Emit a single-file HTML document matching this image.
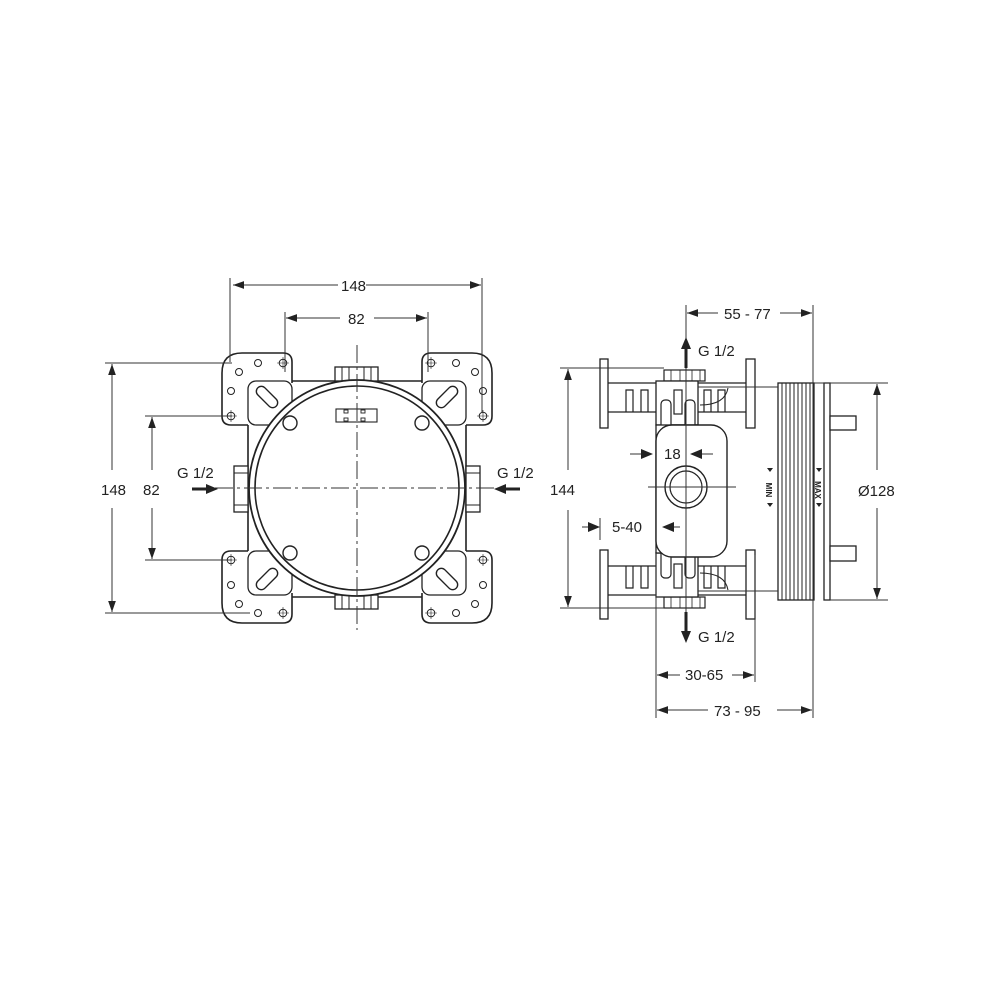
<!DOCTYPE html>
<html><head><meta charset="utf-8"><style>
html,body{margin:0;padding:0;background:#fff}
svg{display:block}
text{font-family:"Liberation Sans",sans-serif;font-size:15px;fill:#222}
</style></head><body>
<svg width="1000" height="1000" viewBox="0 0 1000 1000" xmlns="http://www.w3.org/2000/svg">
<defs>
<marker id="a" viewBox="0 0 10 10" refX="10" refY="5" markerWidth="11" markerHeight="11" markerUnits="userSpaceOnUse" orient="auto-start-reverse"><path d="M0,1.5 L10,5 L0,8.5z" fill="#222"/></marker>
<g id="tlb">
<path d="M292,383 V362 Q292,353 283,353 H242 Q222,353 222,373 V416 Q222,425 231,425 H248" fill="#fff" stroke="#222" stroke-width="1.6"/>
<rect x="248" y="381" width="44" height="44" rx="8" fill="#fff" stroke="#222" stroke-width="1.3"/>
<rect x="254" y="392" width="26" height="10" rx="5" transform="rotate(45 267 397)" fill="#fff" stroke="#222" stroke-width="1.4"/>
<circle cx="258" cy="363" r="3.5" fill="none" stroke="#222"/>
<circle cx="283" cy="363" r="3.8" fill="none" stroke="#222"/><path d="M283,357v12M277,363h12" stroke="#222" stroke-width=".6"/>
<circle cx="239" cy="372" r="3.5" fill="none" stroke="#222"/>
<circle cx="231" cy="391" r="3.5" fill="none" stroke="#222"/>
<circle cx="231" cy="416" r="3.8" fill="none" stroke="#222"/><path d="M231,410v12M225,416h12" stroke="#222" stroke-width=".6"/>
<circle cx="290" cy="423" r="7" fill="#fff" stroke="#222" stroke-width="1.4"/>
</g>
<g id="pipe">
<rect x="600" y="359" width="8" height="69" fill="#fff" stroke="#222" stroke-width="1.3"/>
<rect x="746" y="359" width="9" height="69" fill="#fff" stroke="#222" stroke-width="1.3"/>
<path d="M608,383 H656 M608,412 H656 M698,383 H746 M698,412 H746" stroke="#222" stroke-width="1.2"/>
<path d="M626,412 V390 H633 V412 M641,412 V390 H648 V412 M704,412 V390 H711 V412 M718,412 V390 H725 V412" fill="none" stroke="#222" stroke-width="1.2"/>
<path d="M700,405 Q725,405 728,388" fill="none" stroke="#222" stroke-width="1"/>
<rect x="664" y="370" width="41" height="11" fill="#fff" stroke="#222" stroke-width="1.2"/>
<path d="M671,370v11M680,370v11M692,370v11M700,370v11" stroke="#222" stroke-width=".8"/>
<rect x="656" y="381" width="42" height="44" fill="#fff" stroke="#222" stroke-width="1.3"/>
<rect x="661" y="400" width="10" height="30" rx="4" fill="#fff" stroke="#222" stroke-width="1.2"/>
<rect x="674" y="390" width="8" height="24" fill="#fff" stroke="#222" stroke-width="1.2"/>
<rect x="685" y="400" width="10" height="30" rx="4" fill="#fff" stroke="#222" stroke-width="1.2"/>
</g>
</defs>

<!-- LEFT VIEW -->
<use href="#tlb"/>
<use href="#tlb" transform="translate(714,0) scale(-1,1)"/>
<use href="#tlb" transform="translate(0,976) scale(1,-1)"/>
<use href="#tlb" transform="translate(714,976) scale(-1,-1)"/>
<path d="M292,381 H422 M292,597 H422 M248,425 V551 M466,425 V551" stroke="#222" stroke-width="1.6"/>
<rect x="335" y="367" width="43" height="14" fill="#fff" stroke="#222" stroke-width="1.3"/>
<path d="M342,367v14M349,367v14M364,367v14M371,367v14" stroke="#222" stroke-width="1"/>
<rect x="335" y="595" width="43" height="14" fill="#fff" stroke="#222" stroke-width="1.3"/>
<path d="M342,595v14M349,595v14M364,595v14M371,595v14" stroke="#222" stroke-width="1"/>
<rect x="234" y="466" width="14" height="46" fill="#fff" stroke="#222" stroke-width="1.3"/>
<path d="M234,473h14M234,505h14" stroke="#222"/>
<rect x="466" y="466" width="14" height="46" fill="#fff" stroke="#222" stroke-width="1.3"/>
<path d="M466,473h14M466,505h14" stroke="#222"/>
<circle cx="357" cy="488" r="108" fill="#fff" stroke="#222" stroke-width="1.8"/>
<circle cx="357" cy="488" r="102" fill="none" stroke="#222" stroke-width="1.6"/>
<circle cx="290" cy="423" r="7" fill="#fff" stroke="#222" stroke-width="1.4"/>
<circle cx="422" cy="423" r="7" fill="#fff" stroke="#222" stroke-width="1.4"/>
<circle cx="290" cy="553" r="7" fill="#fff" stroke="#222" stroke-width="1.4"/>
<circle cx="422" cy="553" r="7" fill="#fff" stroke="#222" stroke-width="1.4"/>
<rect x="336" y="409" width="41" height="13" fill="none" stroke="#222" stroke-width="1.1"/>
<g fill="none" stroke="#222" stroke-width=".9"><rect x="344" y="410" width="4" height="3"/><rect x="361" y="410" width="4" height="3"/><rect x="344" y="418" width="4" height="3"/><rect x="361" y="418" width="4" height="3"/></g>
<path d="M357,345 V630 M215,488 H500" stroke="#333" stroke-width="1" stroke-dasharray="18,4,3,4"/>
<!-- left dims -->
<g stroke="#333" stroke-width="1" fill="none">
<path d="M230,278 V362 M482,278 V412 M285,312 V372 M428,312 V372"/>
<path d="M105,363 H232 M105,613 H250 M145,416 H232 M145,560 H232"/>
<path d="M233,285 H338 M366,285 H481" marker-start="url(#a)" marker-end="url(#a)"/>
<path d="M286,318 H340 M374,318 H427" marker-start="url(#a)" marker-end="url(#a)"/>
<path d="M112,364 V470 M112,508 V612" marker-start="url(#a)" marker-end="url(#a)"/>
<path d="M152,417 V470 M152,508 V559" marker-start="url(#a)" marker-end="url(#a)"/>
</g>
<path d="M192,489 H208" stroke="#222" stroke-width="3"/><path d="M206,484 L218,489 L206,494z" fill="#222"/>
<path d="M520,489 H504" stroke="#222" stroke-width="3"/><path d="M506,484 L494,489 L506,494z" fill="#222"/>
<text x="341" y="291">148</text>
<text x="348" y="324">82</text>
<text x="101" y="495">148</text>
<text x="143" y="495">82</text>
<text x="177" y="478">G 1/2</text>
<text x="497" y="478">G 1/2</text>

<!-- RIGHT VIEW -->
<use href="#pipe"/>
<use href="#pipe" transform="translate(0,978) scale(1,-1)"/>
<rect x="656" y="425" width="42" height="128" fill="#fff" stroke="#222" stroke-width="1.3"/>
<rect x="656" y="425" width="71" height="132" rx="16" fill="#fff" stroke="#222" stroke-width="1.4"/>
<circle cx="686" cy="487" r="21" fill="none" stroke="#222" stroke-width="1.4"/>
<circle cx="686" cy="487" r="16" fill="none" stroke="#222" stroke-width="1.2"/>
<path d="M648,487 H736" stroke="#333" stroke-width="1"/>
<rect x="778" y="383" width="36" height="217" fill="#fff" stroke="#222" stroke-width="1.3"/>
<path d="M782,383v217M786,383v217M790,383v217M794,383v217M798,383v217M802,383v217M806,383v217M810,383v217" stroke="#222" stroke-width="1"/>
<rect x="824" y="383" width="6" height="217" fill="#fff" stroke="#222" stroke-width="1.3"/>
<rect x="830" y="416" width="26" height="14" fill="#fff" stroke="#222" stroke-width="1.3"/>
<rect x="830" y="546" width="26" height="15" fill="#fff" stroke="#222" stroke-width="1.3"/>
<text transform="translate(766,490) rotate(90)" text-anchor="middle" style="font-size:8px;font-weight:bold">MIN</text>
<path d="M770,472 l-3,-4 h6z M770,507 l-3,-4 h6z" fill="#222"/>
<text transform="translate(815,490) rotate(90)" text-anchor="middle" style="font-size:8px;font-weight:bold">MAX</text>
<path d="M819,472 l-3,-4 h6z M819,507 l-3,-4 h6z" fill="#222"/>
<!-- right dims -->
<g stroke="#333" stroke-width="1" fill="none">
<path d="M686,305 V630 M813,305 V718 M656,553 V718 M755,555 V682"/>
<path d="M560,368 H664 M560,608 H664 M814,383 H888 M830,600 H888 M698,387 H778 M698,591 H778"/>
<path d="M687,313 H718 M780,313 H812" marker-start="url(#a)" marker-end="url(#a)"/>
<path d="M568,369 V470 M568,510 V607" marker-start="url(#a)" marker-end="url(#a)"/>
<path d="M877,384 V470 M877,508 V599" marker-start="url(#a)" marker-end="url(#a)"/>
<path d="M657,675 H680 M732,675 H754" marker-start="url(#a)" marker-end="url(#a)"/>
<path d="M657,710 H708 M777,710 H812" marker-start="url(#a)" marker-end="url(#a)"/>
<path d="M630,454 H645 M713,454 H700 M582,527 H592 M680,527 H672 M600,518 V540"/>
</g>
<path d="M641,449 L653,454 L641,459z M702,449 L690,454 L702,459z M588,522 L600,527 L588,532z M674,522 L662,527 L674,532z" fill="#222"/>
<path d="M686,368 V347" stroke="#222" stroke-width="3"/><path d="M681,349 L686,337 L691,349z" fill="#222"/>
<path d="M686,612 V633" stroke="#222" stroke-width="3"/><path d="M681,631 L686,643 L691,631z" fill="#222"/>
<text x="698" y="356">G 1/2</text>
<text x="698" y="642">G 1/2</text>
<text x="724" y="319">55 - 77</text>
<text x="550" y="495">144</text>
<text x="858" y="496">Ø128</text>
<text x="664" y="459">18</text>
<text x="612" y="532">5-40</text>
<text x="685" y="680">30-65</text>
<text x="714" y="716">73 - 95</text>
</svg>
</body></html>
